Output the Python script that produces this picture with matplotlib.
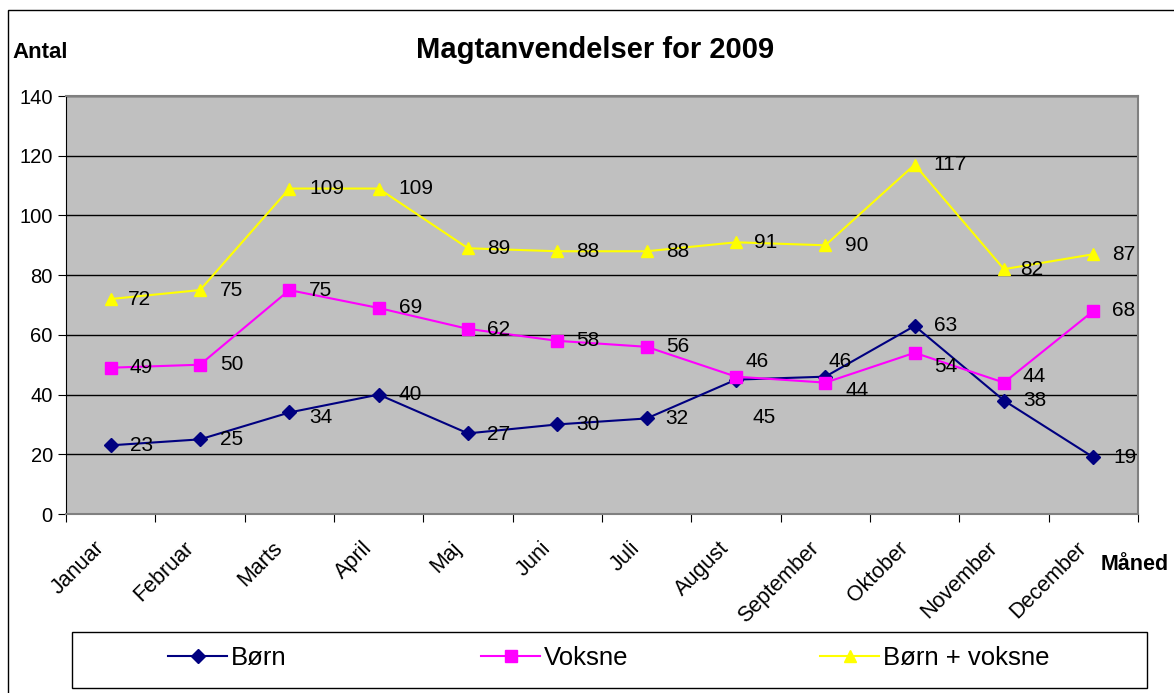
import matplotlib.pyplot as plt
from matplotlib.patches import Rectangle
from matplotlib.lines import Line2D
from matplotlib.transforms import ScaledTranslation

plt.rcParams['font.family'] = ['Liberation Sans', 'DejaVu Sans']

maaneder = ["Januar", "Februar", "Marts", "April", "Maj", "Juni", "Juli",
            "August", "September", "Oktober", "November", "December"]
born = [23, 25, 34, 40, 27, 30, 32, 45, 46, 63, 38, 19]
voksne = [49, 50, 75, 69, 62, 58, 56, 46, 44, 54, 44, 68]
begge = [72, 75, 109, 109, 89, 88, 88, 91, 90, 117, 82, 87]
serienavne = ["Børn", "Voksne", "Børn + voksne"]

# label offsets in pixels (dx right, dy down)
off_born = [(19, 0), (20, 0), (20, 5), (20, 0), (19, 1), (19, 0), (19, 0),
            (17, 38), (3, -15), (19, 0), (19, 0), (20, 0)]
off_voksne = [(19, 0), (20, 0), (20, 0), (20, 0), (19, 1), (19, 0), (19, 0),
              (10, -15), (20, 8), (19, 14), (19, -6), (19, 0)]
off_begge = [(17, 0), (20, 0), (20, 0), (20, 0), (19, 0), (19, 0), (19, 0),
             (18, 0), (20, 0), (19, 0), (16, 0), (19, 0)]

farver = ['#000080', '#FF00FF', '#FFFF00']
markers = ['D', 's', '^']
msizes = [7, 8, 9]

fig = plt.figure(figsize=(11.74, 6.93), dpi=100)
ax = fig.add_axes([66/1174, 1-514/693, 1072/1174, 418/693])
ax.set_facecolor('#C0C0C0')

x = list(range(len(maaneder)))
series = [born, voksne, begge]
offsets = [off_born, off_voksne, off_begge]
px = 0.72
for k in range(3):
    ax.plot(x, series[k], color=farver[k], marker=markers[k], markersize=msizes[k],
            lw=1.5, zorder=4)
    for i, v in enumerate(series[k]):
        dx, dy = offsets[k][i]
        ax.annotate(str(v), (i, v), xytext=(dx*px, -dy*px), textcoords='offset points',
                    ha='left', va='center', fontsize=15, zorder=5)

ax.set_xlim(-0.5, 11.5)
ax.set_ylim(0, 140)
ax.set_yticks(range(0, 141, 20))
ax.yaxis.grid(True, color='black', lw=1)
ax.set_axisbelow(True)
ax.tick_params(axis='y', labelsize=14.5, length=6, direction='out', color='black')

ax.set_xticks([i + 0.5 for i in range(-1, 12)], minor=False)
ax.set_xticklabels([])
ax.set_xticks(x, minor=True)
ax.set_xticklabels(maaneder, minor=True, rotation=45, ha='right', va='top',
                   fontsize=15.5, rotation_mode='anchor')
ax.tick_params(axis='x', which='major', length=6, color='black')
ax.tick_params(axis='x', which='minor', length=0, pad=17)
skift = ScaledTranslation(-0.17, 0, fig.dpi_scale_trans)
for lab in ax.get_xticklabels(minor=True):
    lab.set_transform(lab.get_transform() + skift)

for side in ['top', 'right', 'bottom']:
    ax.spines[side].set_color('#808080')
    ax.spines[side].set_linewidth(1.5)
ax.spines['left'].set_color('black')

fig.text(595/1174, 1-50/693, "Magtanvendelser for 2009", ha='center', va='center',
         fontsize=21, fontweight='bold')
fig.text(12/1174, 1-53/693, "Antal", ha='left', va='center', fontsize=16, fontweight='bold')
fig.text(1101/1174, 1-565/693, "Måned", ha='left', va='center', fontsize=15.5, fontweight='bold')

# outer chart border
fig.patches.append(Rectangle((8/1174, -0.05), 1.1, 1-10/693+0.05, transform=fig.transFigure,
                             fill=False, edgecolor='black', lw=1))

# legend box with three entries
fig.patches.append(Rectangle((72/1174, 1-688/693), 1075/1174, 56/693, transform=fig.transFigure,
                             fill=True, facecolor='white', edgecolor='black', lw=1))
leg_x = [168, 481, 820]
for k in range(3):
    h = Line2D([], [], color=farver[k], marker=markers[k], markersize=msizes[k], lw=1.5)
    leg = fig.legend([h], [serienavne[k]], loc='center left',
                     bbox_to_anchor=(leg_x[k]/1174, 1-658/693), borderaxespad=0,
                     borderpad=0, frameon=False, fontsize=18.5, handlelength=2.3,
                     handletextpad=0.15)

fig.savefig("out.png", dpi=100)
